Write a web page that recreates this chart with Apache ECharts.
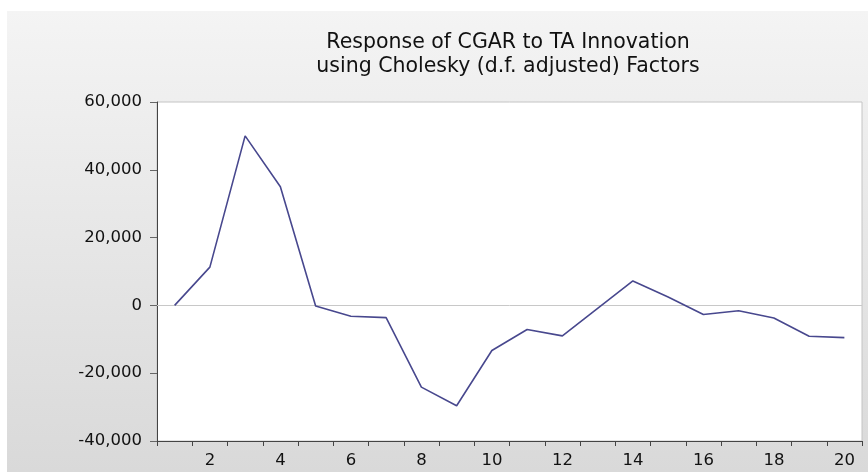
<!DOCTYPE html>
<html>
<head>
<meta charset="utf-8">
<style>
  html, body { margin: 0; padding: 0; background: #ffffff; }
  #chart { width: 868px; height: 472px; }
</style>
<script src="https://cdn.jsdelivr.net/npm/echarts@6/dist/echarts.min.js"></script>
</head>
<body>
<div id="chart"></div>
<script>
// Impulse response periods 1..20
const periods = ['1','2','3','4','5','6','7','8','9','10','11','12','13','14','15','16','17','18','19','20'];
// Response of CGAR to a TA innovation
const response = [0, 11300, 50000, 35000, -200, -3200, -3600, -24100, -29600, -13300,
                  -7100, -9000, -900, 7200, 2500, -2700, -1600, -3700, -9100, -9500];
const titleLines = ['Response of CGAR to TA Innovation', 'using Cholesky (d.f. adjusted) Factors'];
const yMin = -40000, yMax = 60000, yStep = 20000;

const font = 'DejaVu Sans, Liberation Sans, Arial, sans-serif';
const chart = echarts.init(document.getElementById('chart'), null, { renderer: 'canvas' });

chart.setOption({
  animation: false,
  backgroundColor: '#ffffff',
  graphic: [
    {
      type: 'rect', z: -10, silent: true,
      shape: { x: 7, y: 11, width: 861, height: 461 },
      style: {
        fill: new echarts.graphic.LinearGradient(0, 0, 0, 1, [
          { offset: 0, color: '#f4f4f4' },
          { offset: 1, color: '#d9d9d9' }
        ])
      }
    },
    {
      type: 'text', silent: true, x: 508, y: 43,
      style: { text: titleLines[0], font: '20.5px ' + font, fill: '#111111', align: 'center', verticalAlign: 'middle' }
    },
    {
      type: 'text', silent: true, x: 508, y: 67,
      style: { text: titleLines[1], font: '20.5px ' + font, fill: '#111111', align: 'center', verticalAlign: 'middle' }
    }
  ],
  grid: {
    left: 157, top: 102, width: 705, height: 339,
    show: true, backgroundColor: '#ffffff', borderColor: '#c4c4c4', borderWidth: 1
  },
  xAxis: {
    type: 'category',
    data: periods,
    boundaryGap: true,
    axisLine: { show: true, onZero: false, lineStyle: { color: '#444444', width: 1 } },
    axisTick: { show: true, interval: 0, length: 5, inside: false, lineStyle: { color: '#444444' } },
    axisLabel: {
      interval: function (index) { return index % 2 === 1; },
      margin: 11, color: '#111111', fontFamily: font, fontSize: 16.5
    },
    splitLine: { show: false }
  },
  yAxis: {
    type: 'value',
    min: yMin, max: yMax, interval: yStep,
    axisLine: { show: true, lineStyle: { color: '#444444', width: 1 } },
    axisTick: { show: true, length: 7, lineStyle: { color: '#666666' } },
    axisLabel: {
      margin: 15, color: '#111111', fontFamily: font, fontSize: 16.5,
      formatter: function (v) { return v.toLocaleString('en-US'); }
    },
    splitLine: { show: false }
  },
  series: [{
    type: 'line',
    data: response,
    symbol: 'none',
    lineStyle: { color: '#48488e', width: 1.6 },
    markLine: {
      silent: true, symbol: 'none', label: { show: false },
      lineStyle: { color: '#c8c8c8', type: 'solid', width: 1 },
      data: [{ yAxis: 0 }],
      z: 1
    },
    z: 3
  }]
});
</script>
</body>
</html>
